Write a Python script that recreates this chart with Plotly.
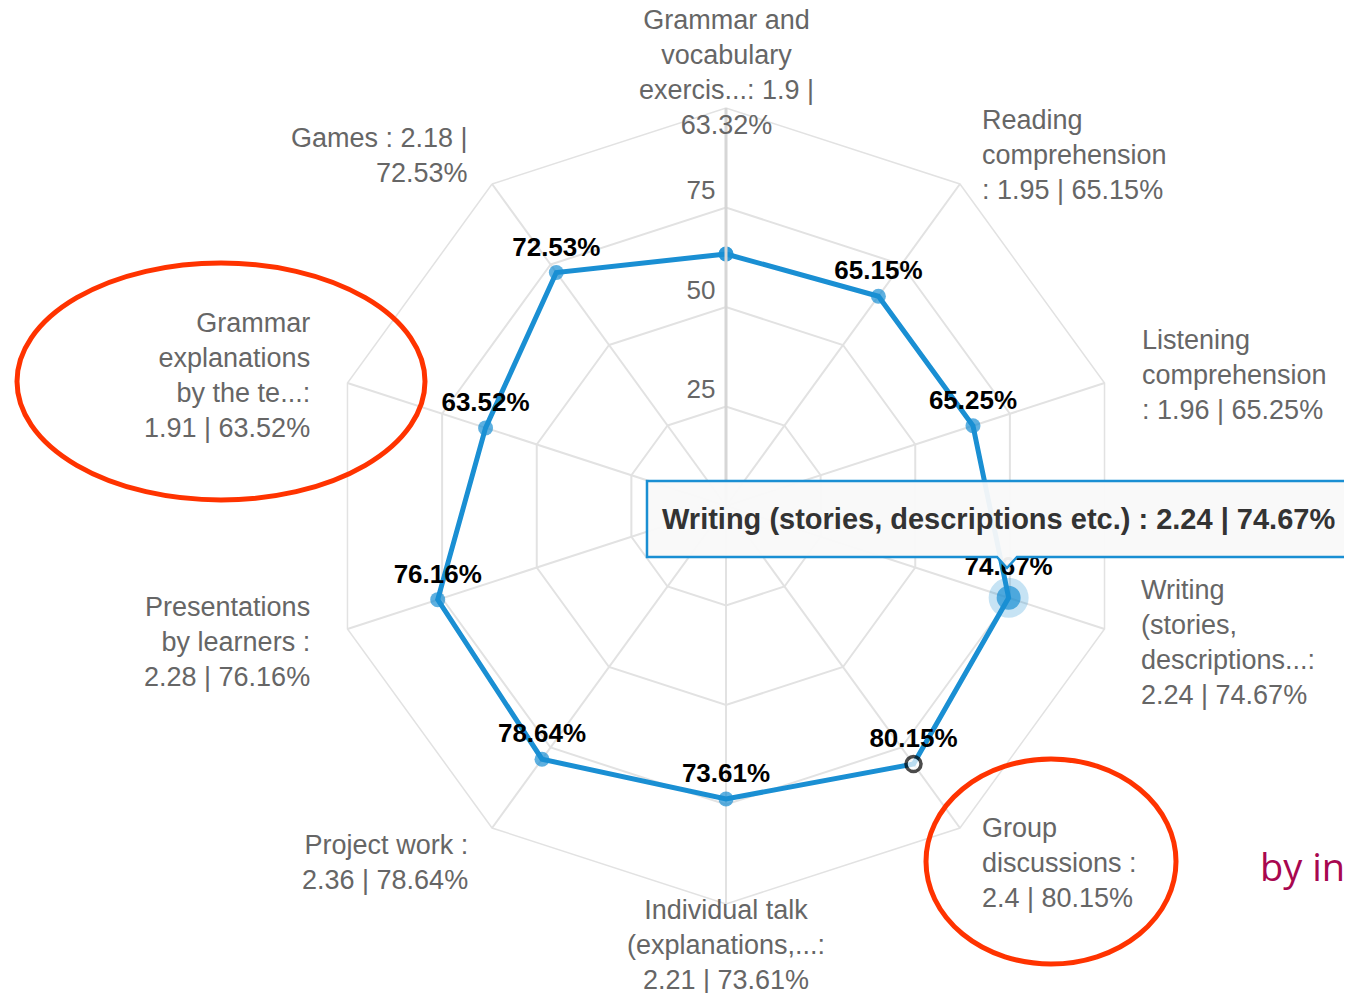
import plotly.graph_objects as go

# categories clockwise from the top
categories = [
    "Grammar and vocabulary exercises",
    "Reading comprehension",
    "Listening comprehension",
    "Writing (stories, descriptions etc.)",
    "Group discussions",
    "Individual talk (explanations, ...)",
    "Project work",
    "Presentations by learners",
    "Grammar explanations by the teacher",
    "Games",
]
# wrapped (and truncated) axis labels, as shown on the chart
label_wraps = [
    "Grammar and<br>vocabulary<br>exercis...: {s} |<br>{p}%",
    "Reading<br>comprehension<br>: {s} | {p}%",
    "Listening<br>comprehension<br>: {s} | {p}%",
    "Writing<br>(stories,<br>descriptions...:<br>{s} | {p}%",
    "Group<br>discussions :<br>{s} | {p}%",
    "Individual talk<br>(explanations,...:<br>{s} | {p}%",
    "Project work :<br>{s} | {p}%",
    "Presentations<br>by learners :<br>{s} | {p}%",
    "Grammar<br>explanations<br>by the te...:<br>{s} | {p}%",
    "Games : {s} |<br>{p}%",
]
scores = [1.9, 1.95, 1.96, 2.24, 2.4, 2.21, 2.36, 2.28, 1.91, 2.18]
percents = [63.32, 65.15, 65.25, 74.67, 80.15, 73.61, 78.64, 76.16, 63.52, 72.53]
radial_ticks = [25, 50, 75]

hover_idx = 3      # point with the tooltip
selected_idx = 4   # point drawn as hollow marker
hidden_label_idx = 0

W, H = 1352, 993
PAGE_MARGIN = 8    # default body margin of the html page
BLUE = "#1a8fd3"
GRID = "#e2e2e2"


def px_x(x):
    return (x - PAGE_MARGIN) / W


def px_y(y):
    return 1 - (y - PAGE_MARGIN) / H


# === polar chart ===
cx, cy, R = 726, 506, 398

theta = categories + categories[:1]
r_vals = percents + percents[:1]

text_labels = ["" if i == hidden_label_idx else f"{p:.2f}%" for i, p in enumerate(percents)]
marker_colors = [BLUE] * len(percents)
marker_sizes = [15] * len(percents)
line_colors = [BLUE] * len(percents)
line_widths = [0] * len(percents)
marker_colors[selected_idx] = "white"
line_colors[selected_idx] = "black"
line_widths[selected_idx] = 3.5
marker_sizes[selected_idx] = 15
marker_sizes[hover_idx] = 24

fig = go.Figure()

fig.add_trace(go.Scatterpolar(
    r=r_vals, theta=theta,
    mode="lines+markers+text",
    line=dict(color=BLUE, width=5),
    marker=dict(size=marker_sizes + marker_sizes[:1],
                color=marker_colors + marker_colors[:1],
                line=dict(color=line_colors + line_colors[:1],
                          width=line_widths + line_widths[:1])),
    text=text_labels + [""],
    textposition="top center",
    textfont=dict(family="Arial", size=26, color="black", weight="bold"),
    showlegend=False,
))

# hover halo
fig.add_trace(go.Scatterpolar(
    r=[percents[hover_idx]], theta=[categories[hover_idx]],
    mode="markers",
    marker=dict(size=40, color="rgba(26,143,211,0.25)"),
    hoverinfo="skip", showlegend=False,
))

fig.update_layout(
    width=W, height=H,
    margin=dict(l=0, r=0, t=0, b=0),
    paper_bgcolor="white",
    plot_bgcolor="white",
    font=dict(family="Arial", color="#666666"),
    polar=dict(
        domain=dict(x=[px_x(cx - R), px_x(cx + R)], y=[px_y(cy + R), px_y(cy - R)]),
        gridshape="linear",
        bgcolor="white",
        angularaxis=dict(
            type="category",
            categoryorder="array",
            categoryarray=categories,
            direction="clockwise",
            rotation=90,
            showticklabels=False,
            ticks="",
            gridcolor=GRID, gridwidth=1.5,
            linecolor=GRID, linewidth=1.5,
        ),
        radialaxis=dict(
            range=[0, 100],
            tickvals=radial_ticks,
            # blank second line lifts each label above its gridline
            ticktext=[f"{t}<br> " for t in radial_ticks],
            angle=90,
            tickangle=90,
            side="counterclockwise",
            ticks="",
            showline=True, linecolor="#d6d6d6", linewidth=3,
            gridcolor=GRID, gridwidth=1.5,
            tickfont=dict(family="Arial", size=26, color="#666666"),
        ),
    ),
)

# === axis labels (category : score | percent) ===
label_pos = [
    (726, 72, "center"), (980, 155, "left"), (1140, 375, "left"),
    (1139, 642, "left"), (980, 863, "left"), (726, 945, "center"),
    (470, 862, "right"), (312, 642, "right"), (312, 375, "right"),
    (470, 155, "right"),
]
for wrap, s, p, (x, y, anchor) in zip(label_wraps, scores, percents, label_pos):
    fig.add_annotation(
        x=px_x(x), y=px_y(y), xref="paper", yref="paper",
        text=wrap.format(s=s, p=f"{p:.2f}"),
        showarrow=False, xanchor=anchor, yanchor="middle", align=anchor,
        font=dict(family="Arial", size=27, color="#666666"),
    )

# === tooltip ===
tip = [(647, 481), (1362, 481), (1362, 557), (1017, 557), (1007, 568), (997, 557), (647, 557)]
tip_path = "M " + " L ".join(f"{px_x(x):.5f},{px_y(y):.5f}" for x, y in tip) + " Z"
fig.add_shape(type="path", path=tip_path, xref="paper", yref="paper",
              fillcolor="rgba(249,249,249,0.95)", line=dict(color=BLUE, width=2.5),
              layer="above")
fig.add_annotation(
    x=px_x(660), y=px_y(519), xref="paper", yref="paper",
    text=f"<b>{categories[hover_idx]} : {scores[hover_idx]} | {percents[hover_idx]:.2f}%</b>",
    showarrow=False, xanchor="left", yanchor="middle",
    font=dict(family="Arial", size=29, color="#333333"),
)

# === red highlight ellipses ===
for x0, y0, x1, y1 in [(17, 263, 425, 500), (926, 759, 1176, 964)]:
    fig.add_shape(type="circle", xref="paper", yref="paper",
                  x0=px_x(x0), x1=px_x(x1), y0=px_y(y1), y1=px_y(y0),
                  line=dict(color="#ff3300", width=5), layer="above")

fig.add_annotation(
    x=px_x(1258), y=px_y(866), xref="paper", yref="paper",
    text="by in", showarrow=False, xanchor="left", yanchor="middle",
    font=dict(family="Open Sans", size=38, color="#a8074f"),
)

fig.write_html("out.html")
